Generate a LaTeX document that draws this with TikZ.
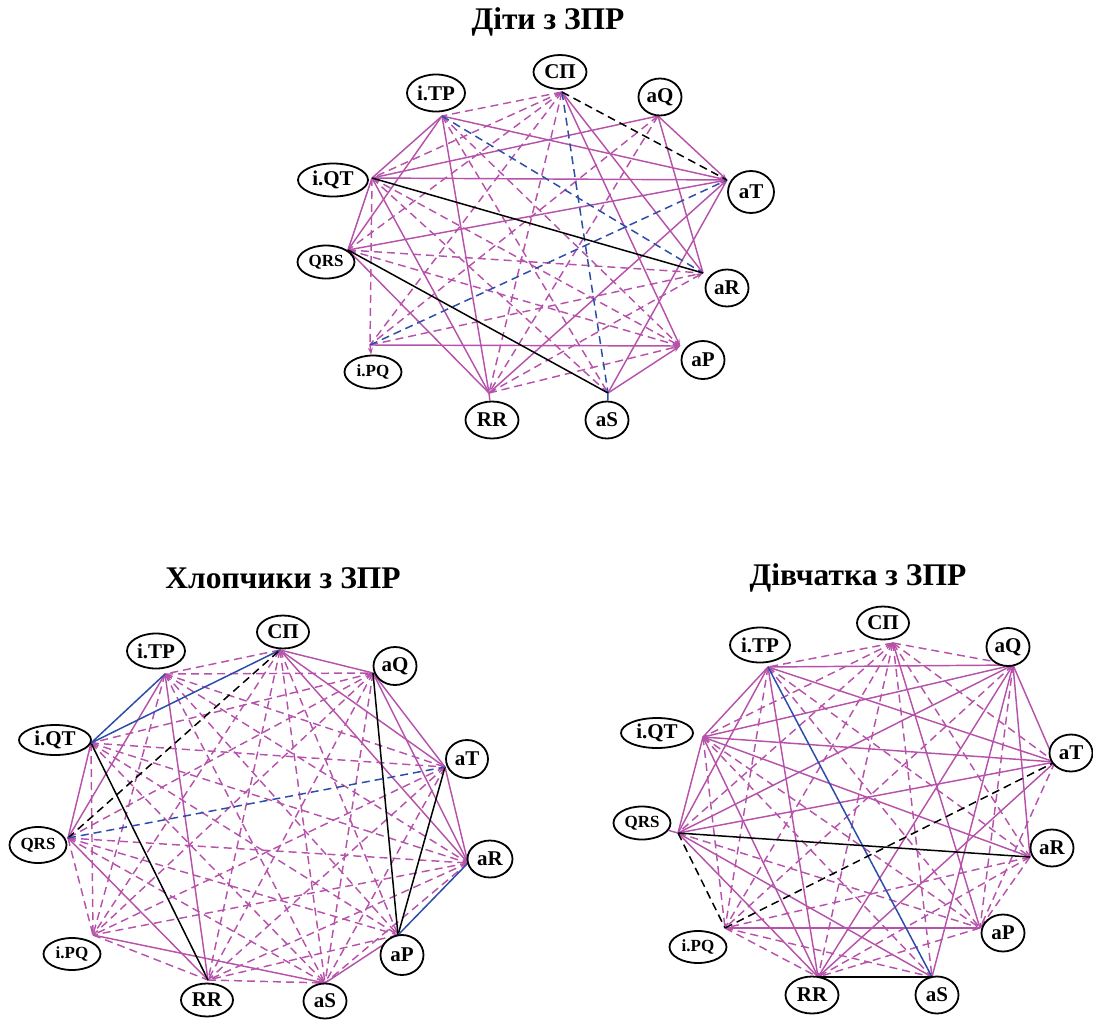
\documentclass[tikz,border=0pt]{standalone}
\usepackage{fontspec}
\setmainfont{Liberation Serif}
\usetikzlibrary{shapes.geometric,arrows.meta}
\definecolor{mag}{RGB}{182,82,170}
\definecolor{blu}{RGB}{45,78,168}
\tikzset{
  sm/.style={draw=mag, line width=1.45pt},
  dm/.style={sm, dash pattern=on 8pt off 5pt},
  sk/.style={draw=black, line width=1.5pt},
  dk/.style={sk, dash pattern=on 8pt off 5pt},
  sb/.style={draw=blu, line width=1.5pt},
  db/.style={sb, dash pattern=on 8pt off 5pt},
  tip/.style={-{Stealth[length=7pt,width=5pt]}},
  nd/.style={ellipse, draw, fill=white, line width=1.8pt, inner sep=0pt,
    font=\bfseries\fontsize{21}{21}\selectfont},
  nds/.style={nd, font=\bfseries\fontsize{17}{17}\selectfont},
  ttl/.style={font=\bfseries\fontsize{31.5}{32}\selectfont}
}
\begin{document}
\begin{tikzpicture}[x=1pt,y=-1pt]
\useasboundingbox (0,0) rectangle (1093,1021);
% ---------------- titles
\node[ttl] (t1) at (548,22) {Діти з ЗПР};
\node[ttl] (t2) at (283,578) {Хлопчики з ЗПР};
\node[ttl] (t3) at (858,578) {Дівчатка з ЗПР};

% ================= graph 1 ports
\coordinate (p1SP) at (562,92);
\coordinate (p1TP) at (442,116);
\coordinate (p1Q) at (658,116);
\coordinate (p1QT) at (372,178);
\coordinate (p1T) at (727,180);
\coordinate (p1QRS) at (348,250);
\coordinate (p1R) at (703,273);
\coordinate (p1PQ) at (370,345);
\coordinate (p1P) at (680,346);
\coordinate (p1RR) at (489,393);
\coordinate (p1S) at (608,393);
\foreach \a/\b in {SP/TP, SP/QRS, SP/PQ, SP/RR, SP/QT, TP/P, TP/S, Q/PQ, Q/RR, QT/PQ, QT/S, QRS/R, PQ/R}
  \draw[dm] (p1\a) -- (p1\b);
\foreach \a/\b in {QT/P, QRS/P, RR/P, RR/R}
  \draw[dm,tip] (p1\a) -- (p1\b);
\foreach \a/\b in {TP/QT, TP/QRS, TP/RR, SP/R, Q/QT, Q/R, QT/QRS, QT/RR, QRS/RR, S/T}
  \draw[sm] (p1\a) -- (p1\b);
\foreach \a/\b in {TP/T, QT/T, QRS/T, Q/T, RR/T, PQ/P, S/P, SP/P}
  \draw[sm,tip] (p1\a) -- (p1\b);
\foreach \a/\b in {TP/R, SP/S, PQ/T} \draw[db] (p1\a) -- (p1\b);
\draw[dk] (p1SP) -- (p1T);
\foreach \a/\b in {QT/R, QRS/S} \draw[sk] (p1\a) -- (p1\b);

% ================= graph 2 ports
\coordinate (p2SP) at (280,650);
\coordinate (p2TP) at (165,674);
\coordinate (p2Q) at (373,673);
\coordinate (p2QT) at (91,743);
\coordinate (p2T) at (445,767);
\coordinate (p2QRS) at (68,838);
\coordinate (p2R) at (468,863);
\coordinate (p2PQ) at (93,935);
\coordinate (p2P) at (398,935);
\coordinate (p2RR) at (208,980);
\coordinate (p2S) at (325,983);
\foreach \a/\b in {SP/TP, SP/PQ, SP/P, SP/RR, SP/S, TP/Q, TP/T, TP/R, TP/PQ, TP/P, TP/S, Q/QT, Q/QRS, Q/PQ, Q/RR, Q/S, QT/T, QT/R, QT/PQ, QT/P, QT/S, T/PQ, T/RR, T/S, QRS/R, QRS/PQ, QRS/P, QRS/S, R/PQ, R/RR, R/S, PQ/RR, P/RR, RR/S}
  \draw[dm] (p2\a) -- (p2\b);
\foreach \a/\b in {SP/Q, SP/T, SP/R, Q/T, Q/R, T/R, P/S, PQ/S, TP/QRS, TP/RR, QT/QRS, QRS/RR}
  \draw[sm] (p2\a) -- (p2\b);
\foreach \a/\b in {Q/P, T/P, QT/RR} \draw[sk] (p2\a) -- (p2\b);
\foreach \a/\b in {TP/QT, QT/SP, R/P} \draw[sb] (p2\a) -- (p2\b);
\draw[dk] (p2QRS) -- (p2SP);
\draw[db] (p2QRS) -- (p2T);

% ================= graph 3 ports
\coordinate (p3SP) at (893,643);
\coordinate (p3TP) at (768,667);
\coordinate (p3Q) at (1013,665);
\coordinate (p3QT) at (703,737);
\coordinate (p3T) at (1055,762);
\coordinate (p3QRS) at (678,833);
\coordinate (p3R) at (1030,857);
\coordinate (p3PQ) at (725,928);
\coordinate (p3P) at (980,928);
\coordinate (p3RR) at (818,977);
\coordinate (p3S) at (932,977);
\foreach \a/\b in {SP/TP, SP/Q, SP/QT, SP/T, SP/QRS, SP/R, SP/PQ, SP/RR, SP/S, TP/R, TP/PQ, TP/P, Q/PQ, Q/P, QT/PQ, QT/P, QT/S, T/P, QRS/P, R/PQ, R/P, R/RR, PQ/RR, PQ/S, P/RR}
  \draw[dm] (p3\a) -- (p3\b);
\foreach \a/\b in {TP/Q, TP/T, TP/QT, TP/QRS, TP/RR, QT/Q, QT/T, QT/R, QT/QRS, QT/RR, QRS/Q, QRS/T, QRS/RR, QRS/S, Q/T, Q/R, Q/RR, Q/S, SP/P, T/RR, PQ/P}
  \draw[sm] (p3\a) -- (p3\b);
\draw[sb] (p3TP) -- (p3S);
\foreach \a/\b in {QRS/R, RR/S} \draw[sk] (p3\a) -- (p3\b);
\foreach \a/\b in {QRS/PQ, PQ/T} \draw[dk] (p3\a) -- (p3\b);

% ================= nodes graph 1
\node[nd, minimum width=53, minimum height=34] (g1SP) at (560,72) {СП};
\node[nd, minimum width=58, minimum height=37] (g1TP) at (436,93) {i.TP};
\node[nd, minimum width=43, minimum height=37] (g1Q) at (660,97) {aQ};
\node[nd, minimum width=70, minimum height=33] (g1QT) at (333,180) {i.QT};
\node[nd, minimum width=46, minimum height=42] (g1T) at (751,192) {aT};
\node[nds, minimum width=57, minimum height=33] (g1QRS) at (326,262) {QRS};
\node[nd, minimum width=43, minimum height=37] (g1R) at (727,288) {aR};
\node[nds, minimum width=57, minimum height=33] (g1PQ) at (373,372) {i.PQ};
\node[nd, minimum width=43, minimum height=38] (g1P) at (703,360) {aP};
\node[nd, minimum width=53, minimum height=37] (g1RR) at (492,420) {RR};
\node[nd, minimum width=43, minimum height=37] (g1S) at (607,420) {aS};
\draw[dm,tip] (p1PQ) -- (g1PQ);
\draw[sm] (p1RR) -- (g1RR);
\draw[db] (p1S) -- (g1S);

% ================= nodes graph 2
\node[nd, minimum width=52, minimum height=33] (g2SP) at (283,632) {СП};
\node[nd, minimum width=58, minimum height=35] (g2TP) at (156,651) {i.TP};
\node[nd, minimum width=43, minimum height=38] (g2Q) at (395,666) {aQ};
\node[nd, minimum width=72, minimum height=30] (g2QT) at (55,740) {i.QT};
\node[nd, minimum width=42, minimum height=38] (g2T) at (467,759) {aT};
\node[nds, minimum width=57, minimum height=36] (g2QRS) at (38,845) {QRS};
\node[nd, minimum width=45, minimum height=37] (g2R) at (490,859) {aR};
\node[nds, minimum width=57, minimum height=32] (g2PQ) at (72,954) {i.PQ};
\node[nd, minimum width=43, minimum height=40] (g2P) at (402,955) {aP};
\node[nd, minimum width=52, minimum height=33] (g2RR) at (207,1000) {RR};
\node[nd, minimum width=43, minimum height=35] (g2S) at (325,1001) {aS};

% ================= nodes graph 3
\node[nd, minimum width=52, minimum height=33] (g3SP) at (883,623) {СП};
\node[nd, minimum width=60, minimum height=35] (g3TP) at (760,645) {i.TP};
\node[nd, minimum width=43, minimum height=38] (g3Q) at (1008,647) {aQ};
\node[nd, minimum width=72, minimum height=30] (g3QT) at (657,733) {i.QT};
\node[nd, minimum width=43, minimum height=37] (g3T) at (1071,753) {aT};
\node[nds, minimum width=57, minimum height=33] (g3QRS) at (642,823) {QRS};
\node[nd, minimum width=43, minimum height=37] (g3R) at (1052,848) {aR};
\node[nds, minimum width=57, minimum height=32] (g3PQ) at (698,947) {i.PQ};
\node[nd, minimum width=43, minimum height=37] (g3P) at (1003,933) {aP};
\node[nd, minimum width=53, minimum height=37] (g3RR) at (812,995) {RR};
\node[nd, minimum width=43, minimum height=37] (g3S) at (937,995) {aS};
\draw[sm] (p3QRS) -- (g3QRS);
\end{tikzpicture}
\end{document}
